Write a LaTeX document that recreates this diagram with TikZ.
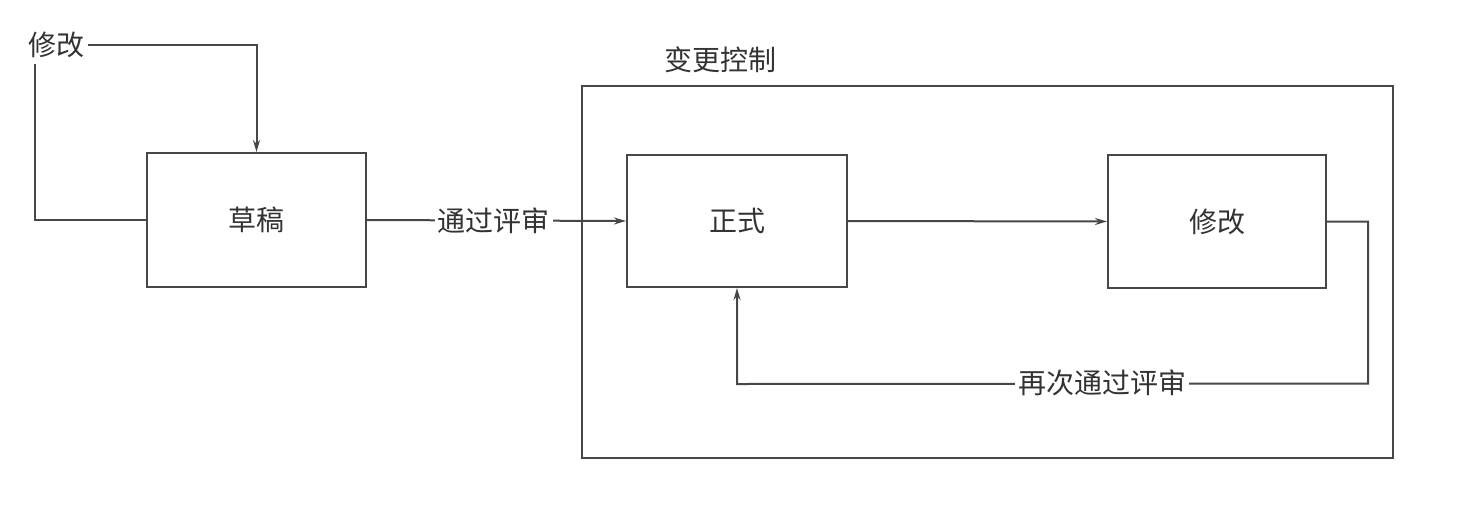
\documentclass[tikz,border=0pt]{standalone}
\usepackage{fontspec}
\newfontfamily\cjk{Noto Sans CJK SC}
\usetikzlibrary{arrows.meta,calc}
\begin{document}
\begin{tikzpicture}[x=1pt,y=-1pt,
  ln/.style={draw=black!72,line width=2pt},
  arr/.style={ln,-{Stealth[length=12pt,width=7pt]}},
  box/.style={ln,rectangle,inner sep=0pt,font=\cjk\fontsize{28}{28}\selectfont,text=black!80},
  lbl/.style={inner sep=3pt,fill=white,font=\cjk\fontsize{28}{28}\selectfont,text=black!80}]
\useasboundingbox (0,0) rectangle (1482,528);
% outer change-control box
\node[box,minimum width=811pt,minimum height=372pt] (ctrl) at (987.5,272) {};
\node[lbl,inner sep=0pt] (ctrlt) at (720,60) {变更控制};
% boxes
\node[box,minimum width=219pt,minimum height=134pt] (cao) at (256.5,220) {草稿};
\node[box,minimum width=220pt,minimum height=132pt] (zheng) at (737,221) {正式};
\node[box,minimum width=218pt,minimum height=133pt] (xiu) at (1217,221.5) {修改};
% top-left label
\node[lbl,inner sep=0pt] (mod) at (56,45) {修改};
\coordinate (modb) at ($(mod.south west)+(7,0)$);
% draft loop
\draw[arr] ($(mod.east)+(4,0)$) -| (cao.north);
\draw[ln] (cao.west) -| ($(modb)+(0,6)$);
% pass review
\draw[arr] (cao.east) -- (zheng.west) node[lbl,pos=0.49] (pass) {通过评审};
% formal -> modify
\draw[arr] (zheng.east) -- (xiu.west);
% re-review loop
\coordinate (c1) at ($(xiu.east)+(41,0)$);
\coordinate (c2) at ($(c1)+(0,162)$);
\coordinate (c3) at ($(zheng.south)+(0,96)$);
\draw[arr] (xiu.east) -- (c1) -- (c2) -- (c3) -- (zheng.south);
\node[lbl] (rer) at (1102,383) {再次通过评审};
\end{tikzpicture}
\end{document}
